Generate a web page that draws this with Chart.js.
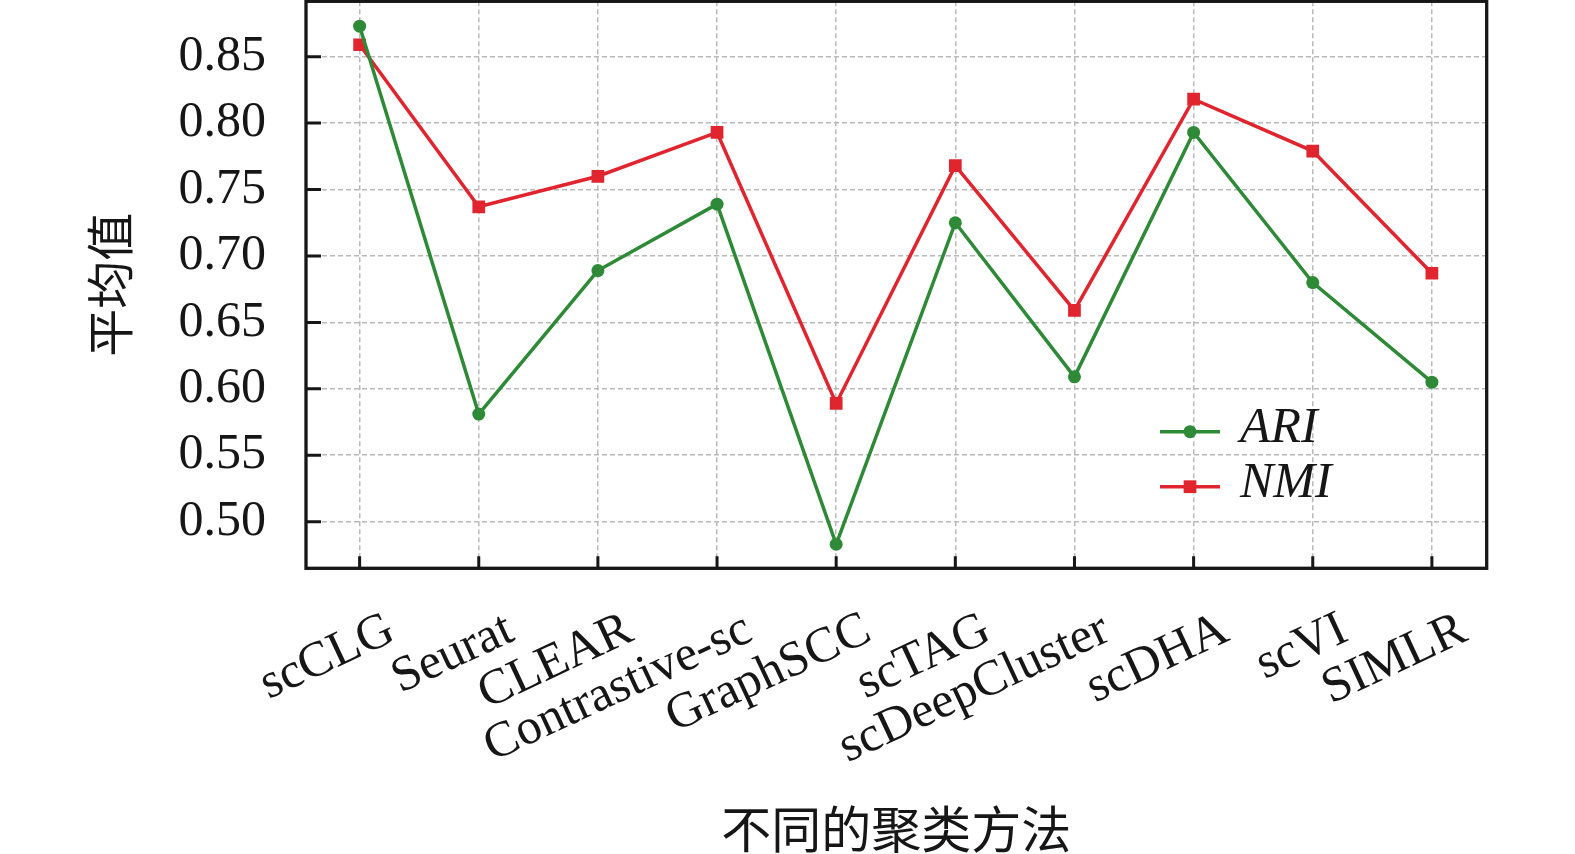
<!DOCTYPE html>
<html><head><meta charset="utf-8">
<script src="https://cdn.jsdelivr.net/npm/chart.js@4/dist/chart.umd.min.js"></script>
<style>html,body{margin:0;padding:0;background:#fff;overflow:hidden;}</style>
</head><body>
<canvas id="c" width="1575" height="854" style="display:block;width:1575px;height:854px"></canvas>
<script>
const categories = ['scCLG','Seurat','CLEAR','Contrastive-sc','GraphSCC','scTAG','scDeepCluster','scDHA','scVI','SIMLR'];
const ariValues = [0.873,0.581,0.689,0.739,0.483,0.725,0.609,0.793,0.680,0.605];
const nmiValues = [0.859,0.737,0.760,0.793,0.589,0.768,0.659,0.818,0.779,0.687];
const yTickValues = [0.50,0.55,0.60,0.65,0.70,0.75,0.80,0.85];
const seriesNames = ['ARI','NMI'];
const xTitle = '不同的聚类方法';
const yTitle = '平均值';

const GREEN = '#2f8a37';
const RED = '#e0252f';
const INK = '#161616';
const SERIF = '"Liberation Serif", "Times New Roman", serif';
const CJK = '"Noto Sans CJK SC", sans-serif';

const framePlugin = {
  id: 'frame',
  afterDraw(chart) {
    const {ctx, chartArea: a, scales} = chart;
    ctx.save();
    ctx.strokeStyle = INK;
    ctx.lineWidth = 3;
    ctx.beginPath();
    yTickValues.forEach(v => {
      const y = scales.y.getPixelForValue(v);
      ctx.moveTo(a.left, y); ctx.lineTo(a.left + 15, y);
    });
    categories.forEach((c, i) => {
      const x = scales.x.getPixelForValue(i);
      ctx.moveTo(x, a.bottom); ctx.lineTo(x, a.bottom - 12);
    });
    ctx.stroke();
    ctx.lineWidth = 3.3;
    ctx.strokeRect(a.left, a.top, a.right - a.left, a.bottom - a.top);
    ctx.restore();
  }
};

const legendPlugin = {
  id: 'innerLegend',
  afterDatasetsDraw(chart) {
    const {ctx} = chart;
    const x0 = 1160, x1 = 1220, tx = 1240;
    const rows = [431.7, 486.7];
    ctx.save();
    chart.data.datasets.forEach((ds, i) => {
      const y = rows[i];
      ctx.strokeStyle = ds.borderColor;
      ctx.lineWidth = ds.borderWidth;
      ctx.beginPath(); ctx.moveTo(x0, y); ctx.lineTo(x1, y); ctx.stroke();
      ctx.fillStyle = ds.pointBackgroundColor;
      const cx = (x0 + x1) / 2;
      if (ds.pointStyle === 'rect') {
        const s = ds.pointRadius * Math.SQRT1_2;
        ctx.fillRect(cx - s, y - s, 2 * s, 2 * s);
      } else {
        ctx.beginPath(); ctx.arc(cx, y, ds.pointRadius, 0, Math.PI * 2); ctx.fill();
      }
      ctx.fillStyle = INK;
      ctx.font = 'italic 50px ' + SERIF;
      ctx.textAlign = 'left';
      ctx.textBaseline = 'middle';
      ctx.fillText(ds.label, tx, y - 3);
    });
    ctx.restore();
  }
};

new Chart(document.getElementById('c').getContext('2d'), {
  type: 'line',
  data: {
    datasets: [
      {
        label: seriesNames[0],
        data: ariValues.map((v, i) => ({x: i, y: v})),
        borderColor: GREEN, backgroundColor: GREEN,
        pointBackgroundColor: GREEN, pointBorderColor: GREEN,
        pointStyle: 'circle', pointRadius: 6.5, pointBorderWidth: 0,
        borderWidth: 3.5, tension: 0
      },
      {
        label: seriesNames[1],
        data: nmiValues.map((v, i) => ({x: i, y: v})),
        borderColor: RED, backgroundColor: RED,
        pointBackgroundColor: RED, pointBorderColor: RED,
        pointStyle: 'rect', pointRadius: 9, pointBorderWidth: 0,
        borderWidth: 3.5, tension: 0
      }
    ]
  },
  options: {
    responsive: false,
    animation: false,
    devicePixelRatio: 1,
    layout: {autoPadding: false, padding: {top: 1.3, right: 1575 - 1486.7, left: 0, bottom: 0}},
    plugins: {legend: {display: false}, tooltip: {enabled: false}},
    scales: {
      x: {
        type: 'linear',
        min: -0.45, max: 9.46,
        afterBuildTicks: s => { s.ticks = categories.map((c, i) => ({value: i})); },
        afterFit: s => { s.height = 854 - 568.3; s.paddingLeft = 0; s.paddingRight = 0; },
        ticks: {
          callback: v => categories[v],
          autoSkip: false, minRotation: 25, maxRotation: 25,
          labelOffset: 32, padding: 32,
          font: {family: SERIF, size: 50, lineHeight: 1.2},
          color: INK
        },
        grid: {color: '#b9b9b9', lineWidth: 1.5, drawTicks: false},
        border: {display: false, dash: [5, 3]},
        title: {
          display: true, text: xTitle, color: INK,
          font: {family: CJK, size: 50, lineHeight: 1},
          padding: {top: 4, bottom: 0}
        }
      },
      y: {
        min: 0.4649, max: 0.8917,
        afterBuildTicks: s => { s.ticks = yTickValues.map(v => ({value: v})); },
        afterFit: s => { s.width = 306; s.paddingTop = 0; s.paddingBottom = 0; },
        ticks: {
          callback: v => v.toFixed(2),
          padding: 40,
          font: {family: SERIF, size: 50},
          color: INK
        },
        grid: {color: '#b9b9b9', lineWidth: 1.5, drawTicks: false},
        border: {display: false, dash: [5, 3]},
        title: {
          display: true, text: yTitle, color: INK,
          font: {family: CJK, size: 48, lineHeight: 1},
          padding: {top: 86, bottom: 0}
        }
      }
    }
  },
  plugins: [framePlugin, legendPlugin]
});
</script>
</body></html>
